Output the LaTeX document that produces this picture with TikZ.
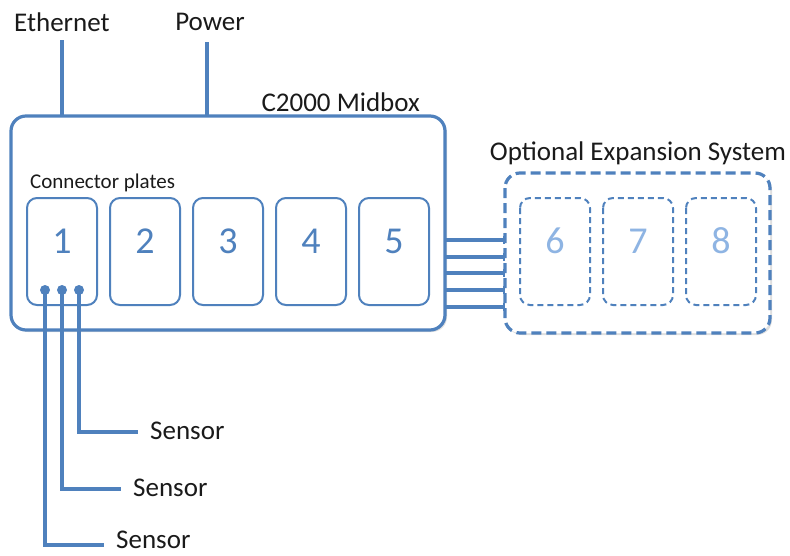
\documentclass[tikz,border=0pt]{standalone}
\usepackage{fontspec}
\setmainfont{Carlito}
\usetikzlibrary{arrows.meta,shadows}
\definecolor{mblue}{HTML}{4F81BD}
\definecolor{lblue}{HTML}{8EB4E3}
\definecolor{txt}{HTML}{1A1A1A}
\begin{document}
\begin{tikzpicture}[x=1pt,y=-1pt,
  wire/.style={draw=mblue,line width=3.2pt},
  mainbox/.style={draw=mblue,line width=3.2pt,rounded corners=15pt,fill=white,
    drop shadow={shadow xshift=2pt,shadow yshift=-2pt,opacity=0.25}},
  plate/.style={draw=mblue,line width=2pt,rounded corners=10pt,fill=white},
  expbox/.style={draw=mblue,line width=3.2pt,rounded corners=15pt,dash pattern=on 10pt off 5pt,fill=white,
    drop shadow={shadow xshift=2pt,shadow yshift=-2pt,opacity=0.25}},
  explate/.style={draw=mblue,line width=2pt,rounded corners=10pt,dash pattern=on 6pt off 4pt},
  num/.style={text=mblue,font=\fontsize{38}{40}\selectfont},
  lnum/.style={text=lblue,font=\fontsize{38}{40}\selectfont},
  lbl/.style={text=txt,font=\fontsize{27}{30}\selectfont,inner sep=0pt},
  dot/.style={circle,fill=mblue,minimum size=10pt,inner sep=0pt}]
\useasboundingbox (0,0) rectangle (790,555);
% main box
\path[mainbox] (11,116) rectangle (445,330);
% plates
\foreach \i/\x in {1/27,2/110,3/193,4/276,5/359}{
  \path[plate] (\x,198) rectangle ++(70,107);
  \node[num] (p\i) at (\x+35,241) {\i};
}
% expansion
\path[expbox] (505,173) rectangle (770,333);
\foreach \i/\x in {6/520,7/603,8/686}{
  \path[explate] (\x,198) rectangle ++(70,107);
  \node[lnum] (p\i) at (\x+35,241) {\i};
}
% labels
\node[lbl,anchor=west] (eth) at (14,22) {Ethernet};
\node[lbl] (pow) at (210,22) {Power};
\node[lbl,anchor=east] (mid) at (420,102) {C2000 Midbox};
\node[lbl] (opt) at (638,153) {Optional Expansion System};
\node[text=txt,font=\fontsize{21}{24}\selectfont,inner sep=0pt,anchor=west] (cp) at (30,183) {Connector plates};
% top wires
\coordinate (ethb) at (62,116);
\coordinate (ethT) at (62,40);
\coordinate (powb) at (207,116);
\coordinate (powT) at (207,42);
\draw[wire] (ethT) -- (ethb);
\draw[wire] (powT) -- (powb);
% connecting wires
\foreach \y in {240,257,273,290,307}{
  \coordinate (a\y) at (445,\y);
  \coordinate (b\y) at (505,\y);
  \draw[wire,-{Bar[width=8pt,line width=2.4pt]}] (a\y) -- (b\y);
}
% sensors
\node[dot] (d1) at (45,290) {};
\node[dot] (d2) at (62,290) {};
\node[dot] (d3) at (79,290) {};
\node[lbl,anchor=west] (s3) at (150,431) {Sensor};
\node[lbl,anchor=west] (s2) at (133,488) {Sensor};
\node[lbl,anchor=west] (s1) at (116,540) {Sensor};
\coordinate (e3) at (138,432);
\coordinate (e2) at (121,489);
\coordinate (e1) at (104,545);
\draw[wire] (d3.center) |- (e3);
\draw[wire] (d2.center) |- (e2);
\draw[wire] (d1.center) |- (e1);
\end{tikzpicture}
\end{document}
